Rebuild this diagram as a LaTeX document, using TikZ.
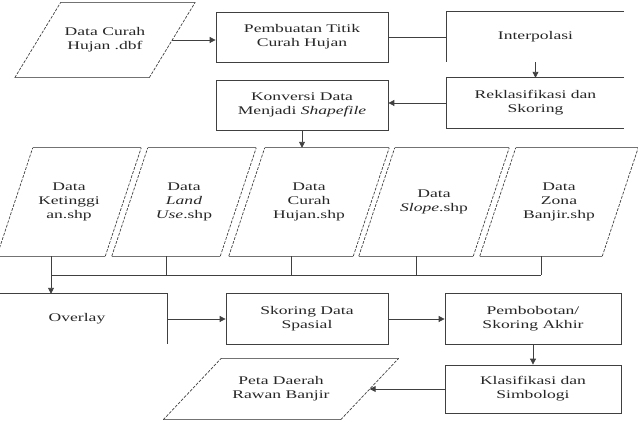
\documentclass[tikz,border=0pt]{standalone}
\usepackage{fontspec}
\setmainfont{Liberation Serif}[FakeStretch=1.5]
\usetikzlibrary{arrows.meta,calc}

\newcommand{\pxu}{0.3mm}
\tikzset{wh/.style 2 args={minimum width=#1*\pxu, minimum height=#2*\pxu}}
% slanted outline round a data node: #1 node, #2 half of the slant
\newcommand{\slant}[2]{
  \draw [paraedge] ($(#1.south west)+(-#2,0)$) -- ($(#1.south east)+(-#2,0)$);
  \draw [paraedge] ($(#1.north west)+(#2,0)$) -- ($(#1.north east)+(#2,0)$);
  \draw [paraside] ($(#1.south west)+(-#2,0)$) -- ($(#1.north west)+(#2,0)$);
  \draw [paraside] ($(#1.south east)+(-#2,0)$) -- ($(#1.north east)+(#2,0)$);
}

\begin{document}
\begin{tikzpicture}[x=\pxu,y=\pxu]
    \tikzstyle{every node}+=[inner sep=0pt, align=center, text=black!85, font=\fontsize{10}{12}\selectfont]
    \tikzstyle{link}=[draw=black!75, line width=0.7pt]
    \tikzstyle{box}=[link]
    \tikzstyle{go}=[link, -{Triangle[length=5pt,width=5pt]}]
    \tikzstyle{paraedge}=[draw=black!55, line width=0.7pt]
    \tikzstyle{paraside}=[draw=black!75, line width=0.6pt, dash pattern=on 2.5pt off 1.2pt]
    \useasboundingbox (0,0) rectangle (638,-421);
    \clip (0,0) rectangle (638,-421);
    % top rows
    \node [wh={134}{75}] (dc) at (105,-40) {Data Curah\\Hujan .dbf};
    \slant{dc}{23}
    \node [box, wh={172}{50}] (pt) at (302,-37) {Pembuatan Titik\\Curah Hujan};
    \node [wh={177}{50}] (ip) at (535.5,-37) {Interpolasi};
    \draw [link] (ip.north east) -- (ip.north west) -- (ip.south west);
    \node [wh={177}{50}] (rk) at (535.5,-103) {Reklasifikasi dan\\Skoring};
    \draw [link] (rk.north east) -- (rk.north west) -- (rk.south west) -- (rk.south east);
    \node [box, wh={172}{50}] (kv) at (302,-105) {Konversi Data\\Menjadi \textit{Shapefile}};
    % shapefiles
    \node [wh={108}{108}] (p1) at (69,-202) {Data\\Ketinggi\\an.shp};
    \node [wh={108}{108}] (p2) at (184,-202) {Data\\\textit{Land}\\\textit{Use}.shp};
    \node [wh={124}{108}] (p3) at (309,-202) {Data\\Curah\\Hujan.shp};
    \node [wh={114}{108}] (p4) at (434,-202) {Data\\\textit{Slope}.shp};
    \node [wh={122}{108}] (p5) at (559,-202) {Data\\Zona\\Banjir.shp};
    \foreach \n in {p1,p2,p3,p4,p5} {\slant{\n}{18}}
    % bottom rows
    \node [wh={180}{50}] (ov) at (77,-319) {Overlay};
    \draw [link] (ov.north west) -- (ov.north east) -- (ov.south east);
    \node [box, wh={162}{51}] (sk) at (307,-319) {Skoring Data\\Spasial};
    \node [box, wh={176}{51}] (pb) at (533,-319) {Pembobotan/\\Skoring Akhir};
    \node [box, wh={176}{48}] (kl) at (533,-389) {Klasifikasi dan\\Simbologi};
    \node [wh={177}{61}] (pr) at (281,-389) {Peta Daerah\\Rawan Banjir};
    \slant{pr}{29}
    % connectors
    \draw [go] (dc.east) -- (dc.east -| pt.west);
    \draw [link] (pt) -- (ip);
    \draw [go] (ip) -- (rk);
    \draw [go] (rk.west) -- (rk.west -| kv.east);
    \draw [go] (kv.south) -- (kv.south |- p3.north);
    \coordinate (bus) at (0,-275);
    \foreach \n in {1,...,5} {
        \path ($(p\n.south)+(-18,0)$) coordinate (f\n);
        \draw [link] (f\n) -- (f\n |- bus);
    }
    \draw [link] (f1 |- bus) -- (f5 |- bus);
    \draw [go] (f1 |- bus) -- (f1 |- ov.north);
    \draw [go] (ov) -- (sk);
    \draw [go] (sk) -- (pb);
    \draw [go] (pb) -- (kl);
    \draw [go] (kl) -- (pr);
\end{tikzpicture}
\end{document}
